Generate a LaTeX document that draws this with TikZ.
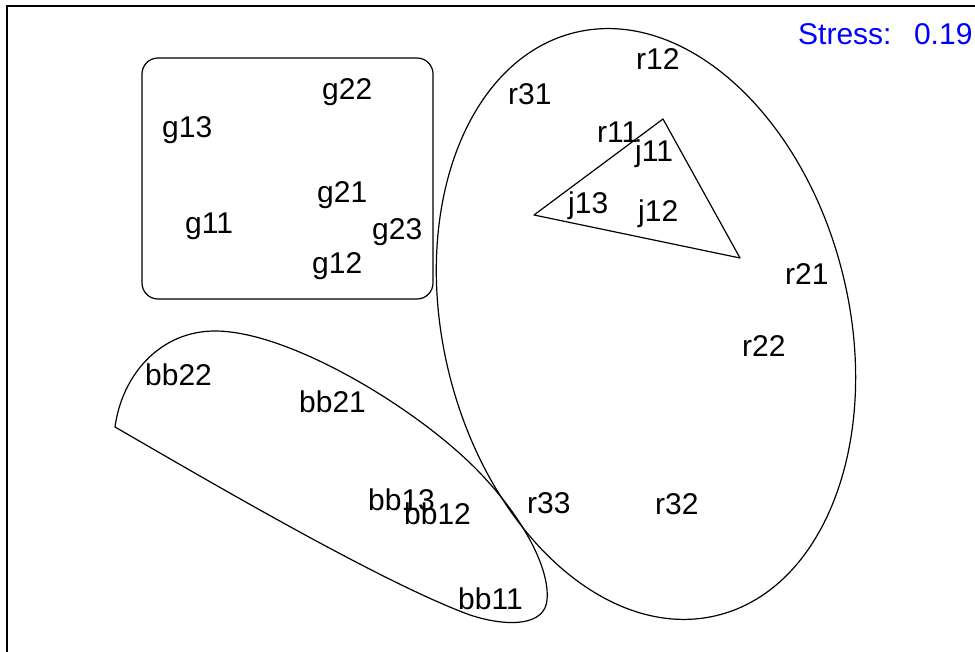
\documentclass[tikz,border=0pt]{standalone}
\usepackage{fontspec}
\setmainfont{Liberation Sans}
\begin{document}
\begin{tikzpicture}[x=1pt,y=-1pt,
	lbl/.style={anchor=base west,inner sep=0pt,font=\fontsize{30}{36}\selectfont},
	hull/.style={line width=1.2pt,line join=round}]
	\useasboundingbox (0,0) rectangle (975,652);
	\draw[line width=1.6pt] (7,652) -- (7,6) -- (975,6);
	\node[lbl,text=blue] (stress) at (798,45) {Stress:\hspace{0.75em}0.19};

	\draw[hull,rounded corners=16pt] (142,58) rectangle (433,299);
	\node[lbl] (g22) at (322,100) {g22};
	\node[lbl] (g13) at (162,138) {g13};
	\node[lbl] (g21) at (317,203) {g21};
	\node[lbl] (g11) at (185,234) {g11};
	\node[lbl] (g23) at (372,240) {g23};
	\node[lbl] (g12) at (312,274) {g12};

	\coordinate (rcenter) at (646,324);
	\draw[hull,rotate around={13.7:(rcenter)}] (rcenter) ellipse [x radius=203pt, y radius=300pt];
	\node[lbl] (r12) at (636,70) {r12};
	\node[lbl] (r31) at (508,105) {r31};
	\node[lbl] (r11) at (597,143) {r11};
	\node[lbl] (r21) at (785,285) {r21};
	\node[lbl] (r22) at (742,356) {r22};
	\node[lbl] (r33) at (527,513) {r33};
	\node[lbl] (r32) at (655,514) {r32};

	\draw[hull] (663,119) -- (534,215) -- (740,258) -- cycle;
	\node[lbl] (j11) at (635,162) {j11};
	\node[lbl] (j13) at (568,214) {j13};
	\node[lbl] (j12) at (638,222) {j12};

	\draw[hull] (115,427) .. controls (122,375) and (160,331) .. (215,331)
		.. controls (290,331) and (420,410) .. (480,473)
		.. controls (525,520) and (550,570) .. (547,600)
		.. controls (545,625) and (510,628) .. (470,615)
		.. controls (380,582) and (200,476) .. cycle;
	\node[lbl] (bb22) at (145,385) {bb22};
	\node[lbl] (bb21) at (299,412) {bb21};
	\node[lbl] (bb13) at (368,510) {bb13};
	\node[lbl] (bb12) at (404,524) {bb12};
	\node[lbl] (bb11) at (458,609) {bb11};
\end{tikzpicture}
\end{document}
